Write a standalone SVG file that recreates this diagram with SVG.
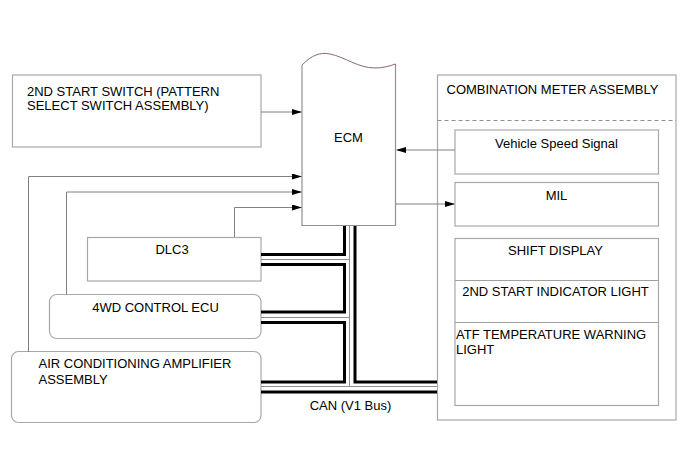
<svg xmlns="http://www.w3.org/2000/svg" width="691" height="467" viewBox="0 0 691 467">
<defs>
<marker id="ah" markerWidth="10" markerHeight="6" refX="9" refY="3" orient="auto" markerUnits="userSpaceOnUse">
<path d="M0,0 L10,3 L0,6 Z" fill="#000"/>
</marker>
<style>
.box{fill:#fff;stroke:#a8a8a8;stroke-width:1.2}
.t{font-family:"Liberation Sans",Arial,sans-serif;font-size:13px;fill:#000}
.c{text-anchor:middle}
.ln{fill:none;stroke:#808080;stroke-width:1}
.bus{fill:none;stroke:#000;stroke-width:3}
.mid{fill:none;stroke:#909090;stroke-width:1}
</style>
</defs>
<rect width="691" height="467" fill="#fff"/>

<g id="ecm">
<path d="M302,65 C312,55 320,52 330,54 C345,57 358,68 375,68 C383,68 390,66 395.5,64 V226 H302 Z" fill="#fff" stroke="none"/>
<path d="M302,65 C312,55 320,52 330,54 C345,57 358,68 375,68 C383,68 390,66 395.5,64" fill="none" stroke="#8a6a6a" stroke-width="1"/>
<path d="M302,65 V225.5 H395.5 V64" fill="none" stroke="#909090" stroke-width="1.2"/>
<text class="t c" x="348.5" y="142">ECM</text>
</g>

<g id="start-switch">
<rect class="box" x="12.5" y="75" width="248.5" height="72"/>
<text class="t" x="27" y="95.5">2ND START SWITCH (PATTERN</text>
<text class="t" x="27" y="109.5">SELECT SWITCH ASSEMBLY)</text>
</g>

<g id="dlc3">
<rect class="box" x="87.5" y="237.5" width="173.5" height="43.5"/>
<text class="t c" x="172" y="253.5">DLC3</text>
</g>

<g id="ecu4wd">
<rect class="box" x="49.5" y="294.5" width="211.5" height="44" rx="7"/>
<text class="t c" x="155.5" y="311.5">4WD CONTROL ECU</text>
</g>

<g id="ac-amp">
<rect class="box" x="11.5" y="351.5" width="249.5" height="71" rx="7"/>
<text class="t" x="38.5" y="367.5">AIR CONDITIONING AMPLIFIER</text>
<text class="t" x="38.5" y="384">ASSEMBLY</text>
</g>

<g id="combination-meter">
<rect class="box" x="437.5" y="75" width="238.5" height="345"/>
<text class="t" x="446.5" y="93.5">COMBINATION METER ASSEMBLY</text>
<line x1="437.5" y1="120.5" x2="676" y2="120.5" stroke="#909090" stroke-width="1" stroke-dasharray="4,3"/>
</g>

<g id="vehicle-speed">
<rect class="box" x="455" y="130" width="203.5" height="44"/>
<text class="t c" x="556.5" y="147.5">Vehicle Speed Signal</text>
</g>

<g id="mil">
<rect class="box" x="455" y="182.5" width="203.5" height="43.5"/>
<text class="t c" x="556.5" y="200">MIL</text>
</g>

<g id="shift-display">
<rect class="box" x="455" y="238.5" width="203.5" height="167"/>
<line x1="455" y1="280.5" x2="658.5" y2="280.5" stroke="#a0a0a0" stroke-width="1"/>
<line x1="455" y1="322.5" x2="658.5" y2="322.5" stroke="#a0a0a0" stroke-width="1"/>
<text class="t c" x="555.5" y="255">SHIFT DISPLAY</text>
<text class="t c" x="555.5" y="296">2ND START INDICATOR LIGHT</text>
<text class="t" x="456" y="338.5">ATF TEMPERATURE WARNING</text>
<text class="t" x="456" y="354">LIGHT</text>
</g>

<g id="can-label">
<text class="t c" x="350.5" y="410">CAN (V1 Bus)</text>
</g>

<g id="connectors">
<path class="ln" d="M261,112 H301" marker-end="url(#ah)"/>
<path class="ln" d="M28.5,352 V176.5 H301" marker-end="url(#ah)"/>
<path class="ln" d="M66.5,294 V192 H301" marker-end="url(#ah)"/>
<path class="ln" d="M234.5,237 V207.5 H301" marker-end="url(#ah)"/>
<path class="ln" d="M455,150 H397" marker-end="url(#ah)"/>
<path class="ln" d="M396,204 H454" marker-end="url(#ah)"/>
<path class="bus" d="M344.5,226 V254.5 H261"/>
<path class="bus" d="M261,264.5 H344.5 V312 H261"/>
<path class="bus" d="M261,322.5 H344.5 V382 H261"/>
<path class="bus" d="M355,226 V382 H437"/>
<path class="bus" d="M261,392 H437"/>
<path class="mid" d="M349.5,226 V386.5"/>
<path class="mid" d="M261,259.5 H349.5 M261,317.5 H349.5 M261,386.5 H437"/>
</g>
</svg>
